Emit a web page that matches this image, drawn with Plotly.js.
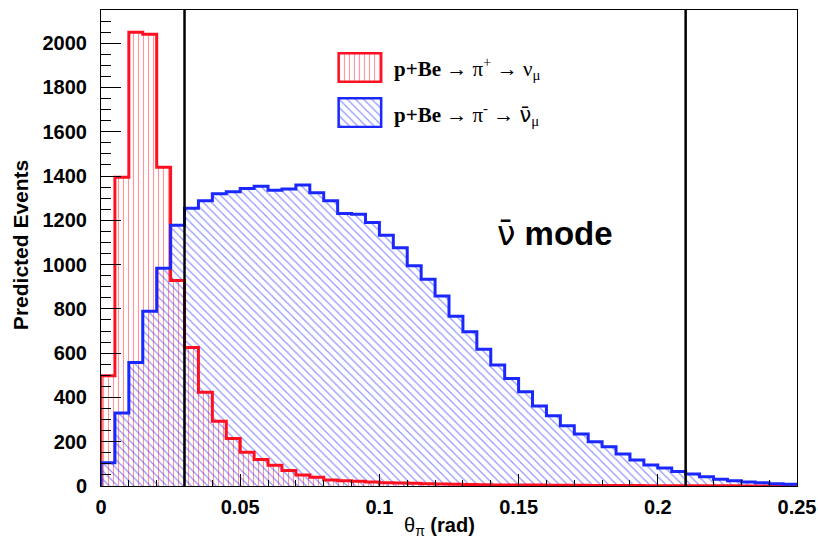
<!DOCTYPE html>
<html>
<head>
<meta charset="utf-8">
<script src="https://cdn.plot.ly/plotly-3.0.1.min.js"></script>
<style>html,body{margin:0;padding:0;background:#fff;}#chart{width:818px;height:541px;}</style>
</head>
<body>
<div id="chart"></div>
<script>
// Histogram binning (theta_pi in rad)
const binWidth = 0.005;
const xMin = 0;
const xMax = 0.25;

// p+Be -> pi+ -> nu_mu (red)
const piPlusCounts = [498, 1395, 2050, 2040, 1440, 928, 626, 423, 293, 215,
  152, 120, 94, 70, 50, 39, 27, 24, 21, 18,
  15, 13, 12, 10, 9, 8, 7, 6, 5, 5,
  4, 4, 3, 3, 3, 2, 2, 2, 2, 1,
  1, 1, 1, 1, 1, 1, 0, 0, 0, 0];

// p+Be -> pi- -> anti-nu_mu (blue)
const piMinusCounts = [105, 330, 558, 789, 983, 1178, 1254, 1288, 1320, 1329,
  1344, 1354, 1336, 1341, 1360, 1324, 1288, 1231, 1227, 1190,
  1133, 1076, 995, 934, 858, 767, 697, 618, 546, 486,
  426, 361, 317, 272, 235, 200, 177, 144, 117, 95,
  81, 66, 54, 42, 30, 24, 18, 15, 10, 8];

// Selection cut lines
const cutLines = [0.03, 0.21];

const nuBar = '<span style="font-family:DejaVu Sans">\u03bd\u0304</span>';
const legendLabels = [
  '<b>p+Be</b> \u2192 \u03c0<sup>+</sup> \u2192 \u03bd<sub>\u03bc</sub>',
  '<b>p+Be</b> \u2192 \u03c0<sup>-</sup> \u2192 ' + nuBar + '<sub>\u03bc</sub>'
];
const modeLabel = '<span style="font-family:DejaVu Sans">\u03bd\u0304</span><b> mode</b>';
const xTitle = '\u03b8<sub>\u03c0</sub> <b>(rad)</b>';
const yTitle = '<b>Predicted Events</b>';

const redColor = '#ff1020';
const blueColor = '#1a28ff';

const centers = piPlusCounts.map((_, i) => xMin + (i + 0.5) * binWidth);
function stepXY(counts) {
  const xs = [xMin], ys = [0];
  counts.forEach((c, i) => { xs.push(xMin + (i + 1) * binWidth); ys.push(c); });
  return {xs, ys};
}
const redStep = stepXY(piPlusCounts);
const blueStep = stepXY(piMinusCounts);

const redPattern = {shape: '|', fgcolor: redColor, fgopacity: 0.45, bgcolor: 'rgba(0,0,0,0)', size: 5, solidity: 0.22};
const bluePattern = {shape: '\\', fgcolor: blueColor, fgopacity: 0.5, bgcolor: 'rgba(0,0,0,0)', size: 5.8, solidity: 0.2};

const traces = [
  {type: 'bar', x: centers, y: piPlusCounts, width: binWidth, xaxis: 'x', yaxis: 'y',
   marker: {color: 'rgba(0,0,0,0)', line: {width: 0}, pattern: redPattern}, hoverinfo: 'skip', showlegend: false},
  {type: 'bar', x: centers, y: piMinusCounts, width: binWidth, xaxis: 'x', yaxis: 'y',
   marker: {color: 'rgba(0,0,0,0)', line: {width: 0}, pattern: bluePattern}, hoverinfo: 'skip', showlegend: false},
  {type: 'scatter', mode: 'lines', x: redStep.xs, y: redStep.ys, line: {shape: 'vh', color: redColor, width: 3},
   xaxis: 'x', yaxis: 'y', showlegend: false, hoverinfo: 'skip'},
  {type: 'scatter', mode: 'lines', x: blueStep.xs, y: blueStep.ys, line: {shape: 'vh', color: blueColor, width: 3},
   xaxis: 'x', yaxis: 'y', showlegend: false, hoverinfo: 'skip'},
  // legend swatches
  {type: 'bar', x: [0.5], y: [1], width: [1], xaxis: 'x2', yaxis: 'y2',
   marker: {color: 'rgba(0,0,0,0)', line: {width: 2.5, color: redColor}, pattern: redPattern}, hoverinfo: 'skip', showlegend: false},
  {type: 'bar', x: [0.5], y: [1], width: [1], xaxis: 'x3', yaxis: 'y3',
   marker: {color: 'rgba(0,0,0,0)', line: {width: 2.5, color: blueColor}, pattern: bluePattern}, hoverinfo: 'skip', showlegend: false}
];

const tickFont = {family: 'Liberation Sans, Arial, sans-serif', size: 20, color: '#000', weight: 'bold'};
const hiddenAxis = {visible: false, range: [-0.04, 1.04], fixedrange: true};

const layout = {
  width: 818, height: 541,
  margin: {l: 101, r: 21, t: 10, b: 55},
  paper_bgcolor: '#fff', plot_bgcolor: '#fff',
  barmode: 'overlay', bargap: 0,
  showlegend: false,
  xaxis: {
    range: [xMin, xMax], dtick: 0.05, tick0: 0,
    ticks: 'inside', ticklen: 12, tickwidth: 1, tickcolor: '#000',
    minor: {dtick: 0.01, ticks: 'inside', ticklen: 6, tickcolor: '#000', showgrid: false},
    showgrid: false, zeroline: false,
    showline: true, mirror: true, linecolor: '#000', linewidth: 1,
    tickfont: tickFont, ticklabelstandoff: 3
  },
  yaxis: {
    range: [0, 2150], dtick: 200, tick0: 0,
    ticks: 'inside', ticklen: 20, tickwidth: 1, tickcolor: '#000',
    minor: {dtick: 50, ticks: 'inside', ticklen: 10, tickcolor: '#000', showgrid: false},
    showgrid: false, zeroline: false,
    showline: true, mirror: true, linecolor: '#000', linewidth: 1,
    tickfont: tickFont, ticklabelstandoff: 9
  },
  xaxis2: Object.assign({domain: [0.339, 0.405], anchor: 'y2'}, hiddenAxis),
  yaxis2: Object.assign({domain: [0.8466, 0.9118], anchor: 'x2'}, hiddenAxis),
  xaxis3: Object.assign({domain: [0.339, 0.405], anchor: 'y3'}, hiddenAxis),
  yaxis3: Object.assign({domain: [0.752, 0.817], anchor: 'x3'}, hiddenAxis),
  shapes: cutLines.map(c => ({type: 'line', xref: 'x', yref: 'paper', x0: c, x1: c, y0: 0, y1: 1,
    line: {color: '#000', width: 2.5}, layer: 'above'})),
  annotations: [
    {xref: 'paper', yref: 'paper', x: 0.418, y: 0.878, xanchor: 'left', yanchor: 'middle', showarrow: false,
     text: legendLabels[0], font: {family: 'Liberation Serif, Times New Roman, serif', size: 21, color: '#000'}},
    {xref: 'paper', yref: 'paper', x: 0.418, y: 0.7815, xanchor: 'left', yanchor: 'middle', showarrow: false,
     text: legendLabels[1], font: {family: 'Liberation Serif, Times New Roman, serif', size: 21, color: '#000'}},
    {xref: 'x', yref: 'y', x: 0.1415, y: 1142, xanchor: 'left', yanchor: 'middle', showarrow: false,
     text: modeLabel, font: {family: 'Liberation Sans, Arial, sans-serif', size: 33, color: '#000'}},
    {xref: 'paper', yref: 'paper', x: 0.487, y: -0.086, xanchor: 'center', yanchor: 'middle', showarrow: false,
     text: xTitle, font: {family: 'Liberation Sans, Arial, sans-serif', size: 20, color: '#000'}},
    {xref: 'paper', yref: 'paper', x: -0.1164, y: 0.506, xanchor: 'center', yanchor: 'middle', showarrow: false, textangle: -90,
     text: yTitle, font: {family: 'Liberation Sans, Arial, sans-serif', size: 21, color: '#000'}}
  ]
};

Plotly.newPlot('chart', traces, layout, {staticPlot: true, displayModeBar: false});
</script>
</body>
</html>
